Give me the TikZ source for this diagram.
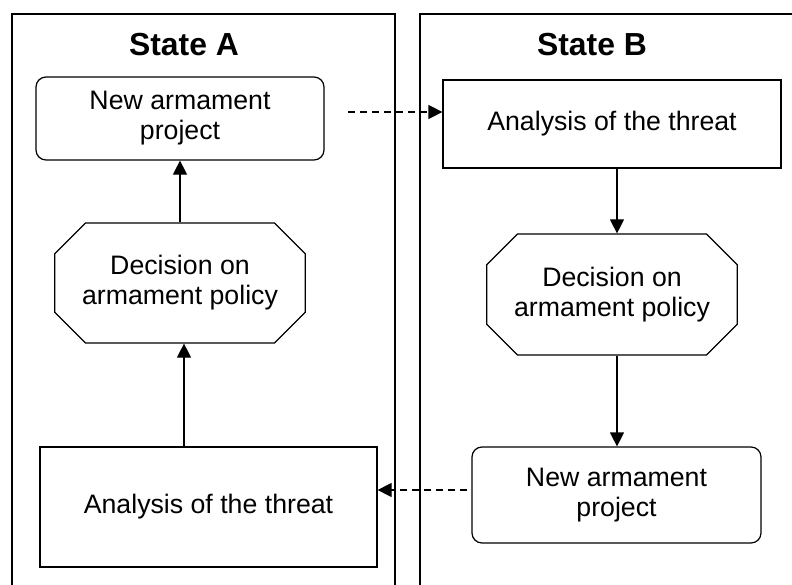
\documentclass[tikz,border=0pt]{standalone}
\usepackage{fontspec}
\setmainfont{Liberation Sans}
\usetikzlibrary{positioning,shapes.misc,arrows.meta}

\tikzset{
	box/.style={draw, line width=1.2bp, align=center, inner sep=0pt, font=\fontsize{26.8}{30}\selectfont},
	project/.style={box, rounded corners=10bp, minimum width=288bp},
	threat/.style={box},
	decision/.style={box, chamfered rectangle, chamfered rectangle xsep=35bp, chamfered rectangle angle=45, minimum width=240bp, minimum height=120bp},
	title/.style={font=\fontsize{32}{36}\selectfont\bfseries},
	panel/.style={draw, line width=1.2bp},
	flow/.style={-{Triangle[length=14bp,width=14bp]}, line width=1.2bp},
	link/.style={flow, dash pattern=on 7bp off 5bp},
}

\begin{document}
\begin{tikzpicture}[x=1bp, y=-1bp]
		\useasboundingbox (0,0) rectangle (792,585);
		\clip (0,0) rectangle (792,585);
		
		% the two states
		\draw[panel] (12,14) rectangle (395,600);
		\draw[panel] (420,14) rectangle (800,600);
		\node[title] (titleA) at (184,45) {State A};
		\node[title] (titleB) at (592,45) {State B};
		
		% State A
		\node[project, minimum height=83bp] (projA) at (180,118.5) {New armament\\project};
		\node[decision] (decA) at (180,283) {Decision on\\armament policy};
		\node[threat, minimum width=337bp, minimum height=120bp] (threatA) at (208.5,507) {Analysis of the threat};
		
		% State B
		\node[threat, minimum width=338bp, minimum height=88bp] (threatB) at (612,124) {Analysis of the threat};
		\node[decision, minimum height=121bp] (decB) at (612,294.5) {Decision on\\armament policy};
		\node[project, minimum width=289bp, minimum height=96bp] (projB) at (616.5,495) {New armament\\project};
		
		\coordinate (outA) at (348,112);
		\coordinate (outB) at (467,490);
		
		\draw[flow] ([xshift=4bp]threatA.north -| decA.south) -- ([xshift=4bp]decA.south);
		\draw[flow] (decA.north) -- (projA.south);
		
		\draw[flow] (threatB.south -| 617,0) -- (decB.north -| 617,0);
		\draw[flow] (decB.south -| 617,0) -- (projB.north -| 617,0);
		
		\draw[link] (outA) -- (outA -| threatB.west);
		\draw[link] (outB) -- (outB -| threatA.east);
\end{tikzpicture}
\end{document}
